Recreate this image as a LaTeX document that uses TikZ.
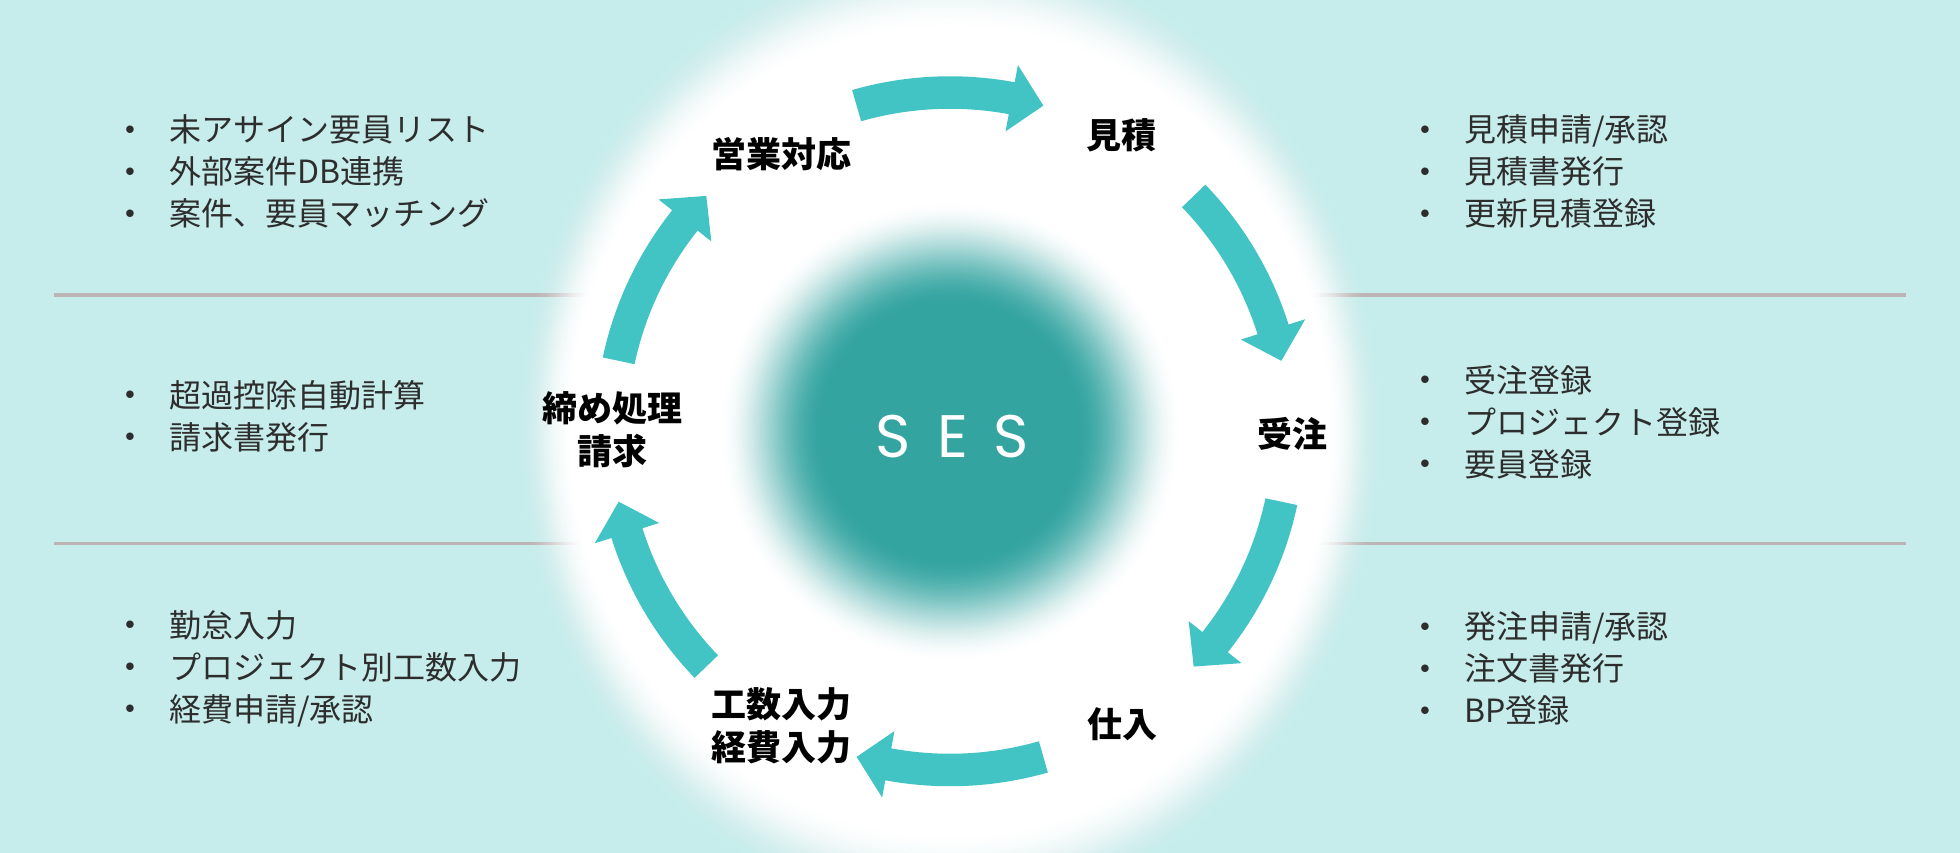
\documentclass[tikz,border=0pt]{standalone}
\usepackage{fontspec}
\newfontfamily\jp{Noto Sans CJK JP}
\newfontfamily\sesf{Poppins}
\usetikzlibrary{calc}
\definecolor{bgc}{RGB}{198,237,236}
\definecolor{arrowc}{RGB}{67,196,196}
\definecolor{blobc}{RGB}{52,164,161}
\definecolor{linec}{RGB}{189,180,182}
\definecolor{txtc}{RGB}{45,45,45}
\newcommand\bitem[1]{\makebox[39pt][c]{\raisebox{2.8pt}{\fontsize{14}{14}\selectfont\rmfamily\textbullet}}#1}
\newcommand\cycarrow[1]{%
  \pgfmathsetmacro\cyT{-(#1+16)}%
  \pgfmathsetmacro\cyH{-(#1-10.5)}%
  \pgfmathsetmacro\cyP{-(#1-16)}%
  \fill[arrowc] ($(C)+(\cyT:258)$) arc[start angle=\cyT, end angle=\cyH, radius=258]
    -- ($(C)+(\cyH:244)$) -- ($(C)+(\cyP:271)$) -- ($(C)+(\cyH:298)$)
    -- ($(C)+(\cyH:284)$) arc[start angle=\cyH, end angle=\cyT, radius=284] -- cycle;}
\begin{document}
\begin{tikzpicture}[x=0.625pt,y=-0.625pt,
  sepline/.style={draw=linec, line width=1.6pt},
  listtxt/.style={anchor=west, inner sep=0pt, align=left, text=txtc, font=\jp\fontsize{16}{21}\selectfont},
  steplabel/.style={inner sep=0pt, align=center, text=black, font=\jp\bfseries\fontsize{17.5}{21.5}\selectfont}]
\fill[bgc] (0,0) rectangle (1568,682);
\useasboundingbox (0,0) rectangle (1568,682);
\clip (0,0) rectangle (1568,682);
\coordinate (C) at (760,345);
\draw[sepline] (43,236) -- (1525,236);
\draw[sepline] (43,435) -- (1525,435);
% white glow
\foreach \k in {1,...,30}{
  \pgfmathsetmacro\glT{\k/30}
  \pgfmathsetmacro\glP{(\k-1)/30}
  \pgfmathsetmacro\glTk{\glT*\glT*(3-2*\glT)}
  \pgfmathsetmacro\glTp{\glP*\glP*(3-2*\glP)}
  \pgfmathsetmacro\glA{1-(1-\glTk)/(1-\glTp)}
  \pgfmathsetmacro\glRx{350-45*\glT}
  \pgfmathsetmacro\glRy{395-70*\glT}
  \fill[white, opacity=\glA] (C) ellipse [x radius=\glRx, y radius=\glRy];
}
% central blob
\foreach \k in {0,...,42}{
  \pgfmathsetmacro\bR{186-2*\k}
  \pgfmathsetmacro\bS{\k/42}
  \pgfmathsetmacro\bT{100*\bS*\bS*(3-2*\bS)}
  \fill[blobc!\bT!white] (C) circle (\bR);
}
\cycarrow{90}
\cycarrow{28}
\cycarrow{-28}
\cycarrow{-90}
\cycarrow{-152}
\cycarrow{152}
\node[anchor=base, inner sep=0pt, text=white, font=\sesf\fontsize{30}{30}\selectfont] (ses) at (762,366) {S\hspace{13pt}E\hspace{13pt}S};
\node[steplabel] (eigyo) at (625,123) {営業対応};
\node[steplabel] (mitsu) at (897,108) {見積};
\node[steplabel] (juchu) at (1034,347) {受注};
\node[steplabel] (shiire) at (898,579) {仕入};
\node[steplabel] (kosu) at (625,581) {工数入力\\経費入力};
\node[steplabel] (shime) at (490,344) {締め処理\\請求};
\node[listtxt] (l1) at (72.6,137.5) {\bitem{未アサイン要員リスト}\\\bitem{外部案件DB連携}\\\bitem{案件、要員マッチング}};
\node[listtxt] (l2) at (72.6,333) {\bitem{超過控除自動計算}\\\bitem{請求書発行}};
\node[listtxt] (l3) at (72.6,535) {\bitem{勤怠入力}\\\bitem{プロジェクト別工数入力}\\\bitem{経費申請/承認}};
\node[listtxt] (r1) at (1108.6,137.5) {\bitem{見積申請/承認}\\\bitem{見積書発行}\\\bitem{更新見積登録}};
\node[listtxt] (r2) at (1108.6,337.5) {\bitem{受注登録}\\\bitem{プロジェクト登録}\\\bitem{要員登録}};
\node[listtxt] (r3) at (1108.6,535) {\bitem{発注申請/承認}\\\bitem{注文書発行}\\\bitem{BP登録}};
\end{tikzpicture}
\end{document}
